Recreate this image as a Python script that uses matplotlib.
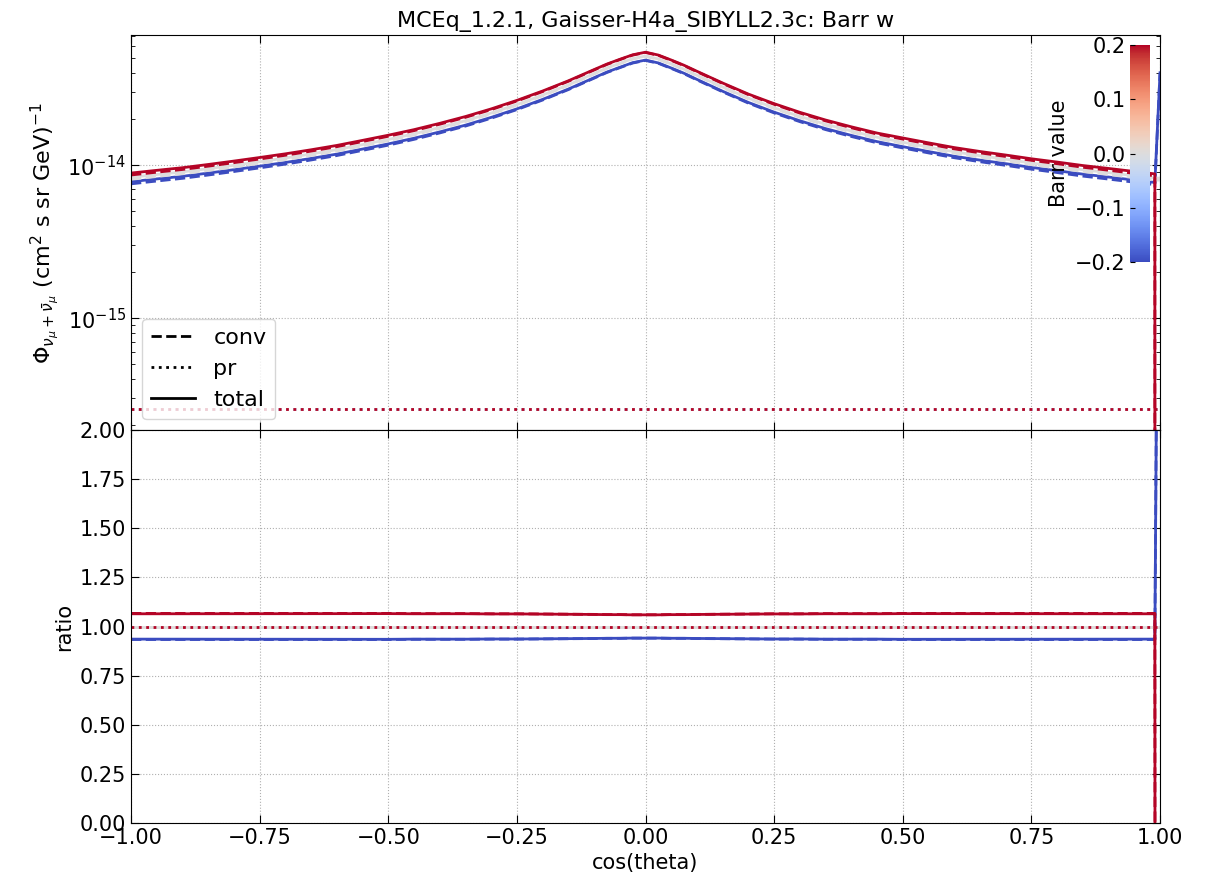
import numpy as np
import matplotlib
matplotlib.use("Agg")
import matplotlib.pyplot as plt
from matplotlib.lines import Line2D

# zenith grid and reference (w = 0) conventional flux, units of 1e-14
cos_theta = [-1.00, -0.95, -0.90, -0.85, -0.80, -0.75, -0.70, -0.65, -0.60, -0.55,
             -0.50, -0.45, -0.40, -0.35, -0.30, -0.25, -0.20, -0.15, -0.10, -0.075,
             -0.05, -0.025, 0.00, 0.025, 0.05, 0.075, 0.10, 0.15, 0.20, 0.25,
             0.30, 0.35, 0.40, 0.45, 0.50, 0.55, 0.60, 0.65, 0.70, 0.75,
             0.80, 0.85, 0.90, 0.95, 0.99, 1.00]
conv_ref = [0.81, 0.845, 0.88, 0.925, 0.975, 1.03, 1.09, 1.16, 1.24, 1.34,
            1.45, 1.58, 1.74, 1.93, 2.17, 2.47, 2.85, 3.33, 3.95, 4.30,
            4.62, 4.95, 5.15, 4.93, 4.57, 4.22, 3.85, 3.22, 2.72, 2.35,
            2.06, 1.83, 1.65, 1.50, 1.39, 1.29, 1.20, 1.13, 1.07, 1.01,
            0.96, 0.91, 0.87, 0.83, 0.80, 0.80]
pr_level = 2.55e-16  # prompt flux, flat in zenith

barr_values = [-0.2, 0.0, 0.2]

# conv ratio to w = 0 for each Barr value
conv_ratio_dn = [0.934, 0.934, 0.934, 0.934, 0.934, 0.934, 0.934, 0.934, 0.934, 0.934,
                 0.934, 0.935, 0.935, 0.935, 0.936, 0.936, 0.937, 0.938, 0.939, 0.940,
                 0.940, 0.941, 0.941, 0.941, 0.940, 0.940, 0.939, 0.938, 0.937, 0.936,
                 0.936, 0.935, 0.935, 0.935, 0.934, 0.934, 0.934, 0.934, 0.934, 0.934,
                 0.934, 0.934, 0.934, 0.934, 0.934, 5.0]
conv_ratio_up = [1.067, 1.067, 1.067, 1.067, 1.067, 1.067, 1.067, 1.067, 1.067, 1.067,
                 1.067, 1.066, 1.066, 1.066, 1.065, 1.065, 1.064, 1.063, 1.062, 1.061,
                 1.061, 1.060, 1.060, 1.060, 1.061, 1.061, 1.062, 1.063, 1.064, 1.065,
                 1.065, 1.066, 1.066, 1.066, 1.067, 1.067, 1.067, 1.067, 1.067, 1.067,
                 1.067, 1.067, 1.067, 1.067, 1.067, -50.0]
conv_ratio = {-0.2: conv_ratio_dn, 0.0: [1.0] * len(cos_theta), 0.2: conv_ratio_up}

x = np.array(cos_theta)
conv0 = np.array(conv_ref) * 1e-14
pr0 = np.full(len(x), pr_level)
tot0 = conv0 + pr0

cmap = plt.get_cmap("coolwarm")
norm = matplotlib.colors.Normalize(vmin=-0.2, vmax=0.2)

fig = plt.figure(figsize=(12.11, 8.76), dpi=100)
ax1 = fig.add_axes([0.1082, 0.509, 0.8497, 0.451])
ax2 = fig.add_axes([0.1082, 0.0605, 0.8497, 0.4485], sharex=ax1)

for w in barr_values:
    c = cmap(norm(w))
    conv = conv0 * np.array(conv_ratio[w])
    tot = conv + pr0
    ax1.plot(x, conv, ls="--", color=c, lw=2)
    ax1.plot(x, pr0, ls=":", color=c, lw=2)
    ax1.plot(x, tot, ls="-", color=c, lw=2)
    ax2.plot(x, conv / conv0, ls="--", color=c, lw=2)
    ax2.plot(x, pr0 / pr0, ls=":", color=c, lw=2)
    ax2.plot(x, tot / tot0, ls="-", color=c, lw=2)

ax1.set_yscale("log")
ax1.set_ylim(1.86e-16, 7.1e-14)
ax1.set_xlim(-1, 1)
ax2.set_ylim(0, 2)
ax2.set_yticks(np.arange(0, 2.01, 0.25))
ax2.set_xticks(np.arange(-1, 1.01, 0.25))

for ax in (ax1, ax2):
    ax.grid(True, ls=":", color="#b0b0b0", lw=0.8)
    ax.tick_params(which="both", direction="in", top=True, right=True, labelsize=15)
    ax.tick_params(which="major", length=6)
    ax.tick_params(which="minor", length=3)
plt.setp(ax1.get_xticklabels(), visible=False)

ax1.set_title("MCEq_1.2.1, Gaisser-H4a_SIBYLL2.3c: Barr w", fontsize=16)
ax1.set_ylabel(r"$\Phi_{\nu_\mu + \bar{\nu}_\mu}$ (cm$^2$ s sr GeV)$^{-1}$", fontsize=16)
ax2.set_ylabel("ratio", fontsize=15)
ax2.set_xlabel("cos(theta)", fontsize=15)

handles = [Line2D([], [], color="k", ls="--", lw=2),
           Line2D([], [], color="k", ls=":", lw=2),
           Line2D([], [], color="k", ls="-", lw=2)]
ax1.legend(handles, ["conv", "pr", "total"], loc="lower left", fontsize=16)

cax = ax1.inset_axes([0.971, 0.425, 0.019, 0.55])
sm = matplotlib.cm.ScalarMappable(norm=norm, cmap=cmap)
cb = fig.colorbar(sm, cax=cax)
cb.set_ticks([-0.2, -0.1, 0.0, 0.1, 0.2])
cb.ax.yaxis.set_ticks_position("left")
cb.ax.yaxis.set_label_position("left")
cb.ax.tick_params(direction="in", labelsize=15)
cb.set_label("Barr value", fontsize=15)
cb.outline.set_visible(False)

fig.savefig("out.png", dpi=100)
